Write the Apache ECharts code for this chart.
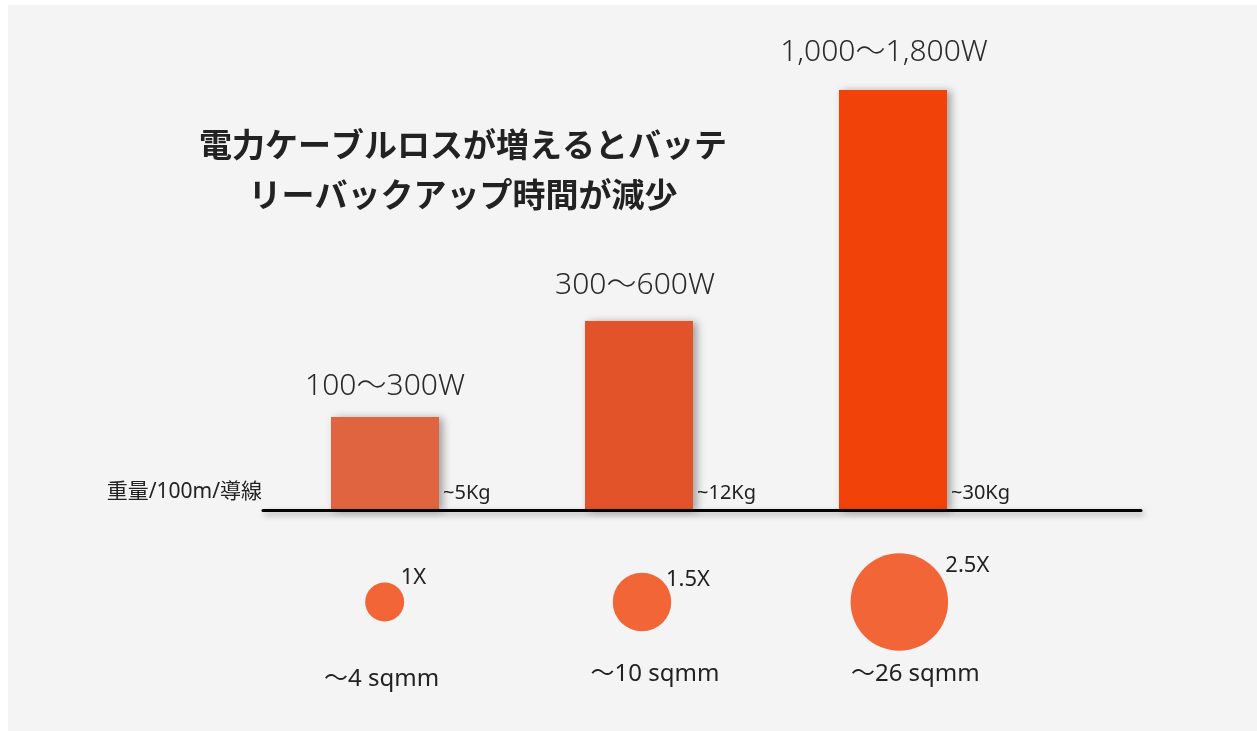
<!DOCTYPE html>
<html>
<head>
<meta charset="utf-8">
<script src="https://cdn.jsdelivr.net/npm/echarts@6/dist/echarts.min.js"></script>
<style>
  html, body { margin: 0; padding: 0; background: #ffffff; }
  #chart { position: absolute; left: 8px; top: 5px; width: 1249px; height: 726px; background: #f4f4f4; }
</style>
</head>
<body>
<div id="chart"></div>
<script>
// Power range carried by each cable size
const categories = ['100～300W', '300～600W', '1,000～1,800W'];
// Relative bar levels (power demand)
const barLevels = [93, 189, 420];
// Cable weight per 100 m of conductor
const weightLabels = ['~5Kg', '~12Kg', '~30Kg'];
// Conductor cross-section and its relative thickness
const crossSections = ['～4 sqmm', '～10 sqmm', '～26 sqmm'];
const circleScale = [1, 1.5, 2.5];

// Styling
const barColors = ['#e0643f', '#e3532a', '#f04209'];
const circleColor = '#f26537';
const textColor = '#222222';
const latin = '"Noto Sans", "Noto Sans CJK JP", sans-serif';
const baseDiameter = 39;
const barLabelNudge = [[0, 0], [-4, -5], [-9, -7]];
const circleLabelNudge = [[16, -24], [24, -22], [46, -36]];

const chart = echarts.init(document.getElementById('chart'));

chart.setOption({
  animation: false,
  title: {
    text: '電力ケーブルロスが増えるとバッテ\nリーバックアップ時間が減少',
    left: 450,
    top: 109,
    textAlign: 'center',
    textStyle: {
      fontFamily: '"Noto Sans CJK JP", sans-serif',
      fontSize: 33,
      fontWeight: 'bold',
      lineHeight: 50,
      color: textColor
    }
  },
  grid: [
    { left: 250, width: 762, top: 5, bottom: 221 },
    { left: 255, right: 116, top: 5, bottom: 221 },
    { left: 248, width: 772, top: 547, height: 100 }
  ],
  xAxis: [
    {
      type: 'category', gridIndex: 0, data: categories,
      axisLine: { show: false }, axisTick: { show: false }, axisLabel: { show: false }
    },
    {
      type: 'value', gridIndex: 1, min: 0, max: 1, z: 5,
      axisLine: {
        show: true,
        lineStyle: {
          color: '#000', width: 3,
          shadowColor: 'rgba(0,0,0,0.35)', shadowBlur: 6, shadowOffsetX: 2, shadowOffsetY: 3
        }
      },
      axisTick: { show: false }, axisLabel: { show: false }, splitLine: { show: false },
      name: '重量/100m/導線',
      nameLocation: 'start',
      nameGap: 1,
      nameTextStyle: {
        fontFamily: latin, fontSize: 21, color: textColor,
        align: 'right', verticalAlign: 'bottom', padding: [0, 0, 7, 0]
      }
    },
    {
      type: 'category', gridIndex: 2, data: crossSections,
      axisLine: { show: false }, axisTick: { show: false },
      axisLabel: {
        margin: 10,
        fontFamily: latin, fontSize: 24, color: textColor,
        formatter: (v, i) => '{l' + i + '|' + v + '}',
        rich: {
          l0: { fontFamily: latin, fontSize: 24, color: textColor, padding: [5, 6, 0, 0] },
          l1: { fontFamily: latin, fontSize: 24, color: textColor, padding: [0, 0, 0, 26] },
          l2: { fontFamily: latin, fontSize: 24, color: textColor, padding: [0, 0, 0, 32] }
        }
      }
    }
  ],
  yAxis: [
    { type: 'value', gridIndex: 0, min: 0, max: 500, show: false },
    { type: 'value', gridIndex: 1, min: 0, max: 1, show: false },
    { type: 'value', gridIndex: 2, min: -1, max: 1, show: false }
  ],
  series: [
    {
      type: 'bar',
      xAxisIndex: 0, yAxisIndex: 0,
      barWidth: 108,
      data: barLevels.map((v, i) => ({
        value: v,
        itemStyle: { color: barColors[i] },
        label: { offset: barLabelNudge[i] }
      })),
      itemStyle: {
        shadowColor: 'rgba(0,0,0,0.35)', shadowBlur: 8, shadowOffsetX: 4, shadowOffsetY: 1
      },
      label: {
        show: true,
        position: 'top',
        distance: 16,
        fontFamily: latin,
        fontWeight: 300,
        fontSize: 30,
        color: '#2a2a2a',
        formatter: p => categories[p.dataIndex]
      }
    },
    {
      // weight annotation beside each bar's foot
      type: 'bar',
      xAxisIndex: 0, yAxisIndex: 0,
      barWidth: 108,
      barGap: '-100%',
      silent: true,
      data: barLevels,
      itemStyle: { color: 'rgba(0,0,0,0)' },
      label: {
        show: true,
        position: ['100%', '100%'],
        offset: [4, -17],
        align: 'left',
        verticalAlign: 'middle',
        fontFamily: latin,
        fontSize: 20,
        color: textColor,
        formatter: p => weightLabels[p.dataIndex]
      }
    },
    {
      type: 'scatter',
      xAxisIndex: 2, yAxisIndex: 2,
      symbol: 'circle',
      itemStyle: { color: circleColor, opacity: 1 },
      data: circleScale.map((s, i) => ({
        value: [crossSections[i], 0],
        symbolSize: s * baseDiameter,
        label: { offset: circleLabelNudge[i] }
      })),
      label: {
        show: true,
        position: 'inside',
        align: 'left',
        verticalAlign: 'middle',
        fontFamily: latin,
        fontSize: 22,
        color: textColor,
        formatter: p => circleScale[p.dataIndex] + 'X'
      }
    }
  ]
});
</script>
</body>
</html>
